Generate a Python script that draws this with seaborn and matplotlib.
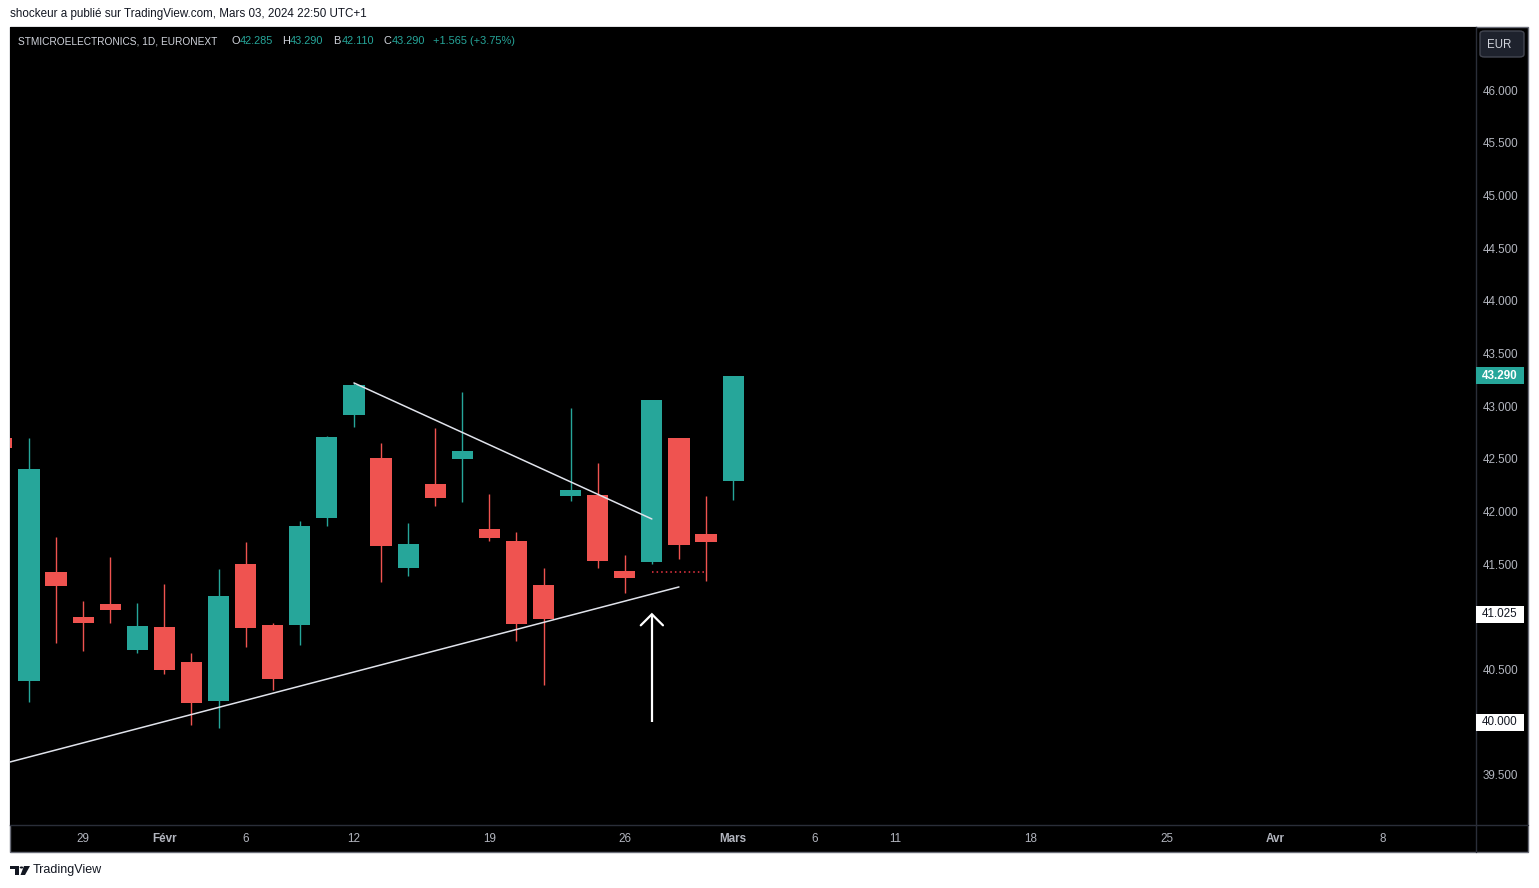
import numpy as np
import pandas as pd
import matplotlib
matplotlib.use('Agg')
import matplotlib.pyplot as plt
import matplotlib.transforms as mtransforms
from matplotlib.patches import Rectangle, FancyBboxPatch, Polygon, Circle
import seaborn as sns

# daily candles, STMicroelectronics (EURONEXT), Jan 24 -> Mar 1 2024
dates = ['2024-01-24', '2024-01-25', '2024-01-26', '2024-01-29', '2024-01-30', '2024-01-31',
         '2024-02-01', '2024-02-02', '2024-02-05', '2024-02-06', '2024-02-07', '2024-02-08',
         '2024-02-09', '2024-02-12', '2024-02-13', '2024-02-14', '2024-02-15', '2024-02-16',
         '2024-02-19', '2024-02-20', '2024-02-21', '2024-02-22', '2024-02-23', '2024-02-26',
         '2024-02-27', '2024-02-28', '2024-02-29', '2024-03-01']
opens = [42.70, 40.39, 41.43, 41.00, 41.12, 40.69, 40.90, 40.57, 40.20, 41.50, 40.92, 40.92,
         41.94, 42.92, 42.51, 41.46, 42.26, 42.50, 41.83, 41.72, 41.30, 42.15, 42.16, 41.44,
         41.52, 42.70, 41.79, 42.285]
highs = [42.72, 42.70, 41.76, 41.15, 41.57, 41.13, 41.31, 40.66, 41.45, 41.71, 40.94, 41.91,
         42.72, 43.22, 42.65, 41.89, 42.79, 43.13, 42.17, 41.81, 41.46, 42.98, 42.46, 41.59,
         43.06, 42.70, 42.15, 43.29]
lows = [42.58, 40.19, 40.75, 40.68, 40.94, 40.66, 40.46, 39.97, 39.95, 40.71, 40.31, 40.73,
        41.86, 42.80, 41.33, 41.39, 42.05, 42.09, 41.72, 40.77, 40.35, 42.10, 41.46, 41.23,
        41.50, 41.55, 41.34, 42.11]
closes = [42.60, 42.40, 41.29, 40.94, 41.07, 40.91, 40.50, 40.18, 41.20, 40.89, 40.41, 41.86,
          42.71, 43.20, 41.67, 41.69, 42.13, 42.57, 41.75, 40.93, 40.98, 42.20, 41.53, 41.37,
          43.06, 41.68, 41.71, 43.29]

# time axis (bar index, first candle of Jan 25 = 0)
time_pos = [2, 5, 8, 12, 17, 22, 26, 29, 32, 37, 42, 46, 50]
time_labels = ['29', 'Févr', '6', '12', '19', '26', 'Mars', '6', '11', '18', '25', 'Avr', '8']
month_labels = ['Févr', 'Mars', 'Avr']

# 40.000 / 41.000 are covered by the drawing labels on the scale
price_ticks = [39.5, 40.5, 41.5, 42.0, 42.5, 43.0, 43.5, 44.0, 44.5, 45.0, 45.5, 46.0]

# drawings
support_x = [-0.70, 24.0]
support_y = [39.623, 41.284]
resist_x = [12.0, 23.0]
resist_y = [43.22, 41.929]
dotted_x = [23.0, 24.96]
dotted_y = [41.426, 41.426]
arrow_x = 23.0
arrow_y = [40.0, 41.025]
last_price = 43.29

GREEN = '#26a69a'
RED = '#ef5350'
TXT = '#b2b5be'

df = pd.DataFrame({'date': dates, 'open': opens, 'high': highs, 'low': lows, 'close': closes})
df['i'] = np.arange(len(df)) - 1
df['up'] = df['close'] >= df['open']

sns.set_theme(style='dark', rc={'axes.facecolor': 'black', 'figure.facecolor': 'white'})
plt.rcParams['font.family'] = ['Liberation Sans', 'DejaVu Sans']

W, H = 1539, 888
fig = plt.figure(figsize=(W / 100, H / 100), dpi=100)

def fx(x):
    return x / W

def fy(y):
    return 1 - y / H

# black chart panel
fig.add_artist(Rectangle((fx(10), fy(852)), fx(1528) - fx(10), fy(27) - fy(852),
                         transform=fig.transFigure, fc='black', ec='#6a6d78', lw=1, zorder=0))

ax = fig.add_axes([fx(10), fy(825), fx(1476) - fx(10), fy(27) - fy(825)])
ax.set_facecolor('black')

cols = np.where(df['up'], GREEN, RED)
ax.vlines(df['i'], df['low'], df['high'], colors=cols, lw=1.0, zorder=2)
body = (df['close'] - df['open']).abs().clip(lower=0.02)
ax.bar(df['i'], body, bottom=df[['open', 'close']].min(axis=1), width=0.78,
       color=cols, linewidth=0, zorder=3)

# trendlines
sns.lineplot(x=support_x, y=support_y, ax=ax, color='#e0e3eb', lw=1.1, zorder=4)
sns.lineplot(x=resist_x, y=resist_y, ax=ax, color='#e0e3eb', lw=1.1, zorder=4)
ax.plot(dotted_x, dotted_y, color='#f23645', lw=1.1, ls=(0, (1, 2)), zorder=4)

# arrow
ax.plot([arrow_x, arrow_x], arrow_y, color='white', lw=1.6, zorder=5, solid_capstyle='butt')
ax.plot([arrow_x - 0.41, arrow_x, arrow_x + 0.41],
        [arrow_y[1] - 0.105, arrow_y[1], arrow_y[1] - 0.105],
        color='white', lw=1.6, zorder=5, solid_joinstyle='miter')

ax.set_xlim(-0.70, 53.43)
ax.set_ylim(39.025, 46.598)
ax.grid(False)
for s in ['top', 'left']:
    ax.spines[s].set_visible(False)
ax.spines['right'].set_color('#2a2e39')
ax.spines['bottom'].set_color('#2a2e39')
ax.spines['right'].set_linewidth(1)
ax.spines['bottom'].set_linewidth(1)

ax.set_xticks(time_pos)
ax.set_xticklabels(time_labels)
ax.yaxis.tick_right()
ax.set_yticks(price_ticks)
ax.set_yticklabels([f'{v:.3f}' for v in price_ticks])
ax.tick_params(axis='x', length=0, pad=6, labelsize=8.4, labelcolor=TXT)
ax.tick_params(axis='y', length=0, pad=5, labelsize=8.4, labelcolor=TXT)
for lab in ax.get_xticklabels():
    if lab.get_text() in month_labels:
        lab.set_fontweight('bold')
ax.set_xlabel('')
ax.set_ylabel('')
leg = ax.get_legend()
if leg:
    leg.remove()

# highlighted price labels on the scale
blend = mtransforms.blended_transform_factory(ax.transAxes, ax.transData)
bw = (1524 - 1476) / 1466
bh = 17 / 105.38
for val, fc, tc, bold in [(last_price, GREEN, 'white', True),
                          (arrow_y[1], 'white', '#131722', False),
                          (arrow_y[0], 'white', '#131722', False)]:
    ax.add_patch(Rectangle((1.0, val - bh / 2), bw, bh, transform=blend, fc=fc, ec='none',
                           clip_on=False, zorder=6))
    ax.text(1.0 + 6 / 1466, val, f'{val:.3f}', transform=blend, color=tc, fontsize=8.4,
            va='center', ha='left', fontweight='bold' if bold else 'normal', zorder=7,
            clip_on=False)

# EUR box
fig.add_artist(FancyBboxPatch((fx(1480), fy(57)), fx(1524) - fx(1480), fy(31) - fy(57),
                              boxstyle='round,pad=0,rounding_size=0.003',
                              transform=fig.transFigure, fc='#1e222d', ec='#434651', lw=1))
fig.text(fx(1499), fy(44.5), 'EUR', color='#d1d4dc', fontsize=8.3, ha='center', va='center')

# separator between scale and time axis rows
fig.add_artist(plt.Line2D([fx(1476), fx(1528)], [fy(825), fy(825)], transform=fig.transFigure,
                          color='#2a2e39', lw=1))
fig.add_artist(plt.Line2D([fx(1476), fx(1476)], [fy(825), fy(852)], transform=fig.transFigure,
                          color='#2a2e39', lw=1))

# legend line of the symbol
fig.text(fx(18), fy(41.5), 'STMICROELECTRONICS, 1D, EURONEXT', color='#d1d4dc', fontsize=7.3,
         va='center', ha='left')
for xp, s, c in [(231, 'O', '#d1d4dc'), (240, '42.285', GREEN), (282, 'H', '#d1d4dc'),
                 (290, '43.290', GREEN), (333, 'B', '#d1d4dc'), (342, '42.110', GREEN),
                 (383, 'C', '#d1d4dc'), (392, '43.290', GREEN), (433, '+1.565 (+3.75%)', GREEN)]:
    fig.text(fx(xp), fy(41.5), s, color=c, fontsize=7.9, va='center', ha='left')

# header and footer
fig.text(fx(10), fy(14), 'shockeur a publié sur TradingView.com, Mars 03, 2024 22:50 UTC+1',
         color='#131722', fontsize=8.4, va='center', ha='left')
fig.add_artist(Polygon([(fx(10), fy(866)), (fx(19), fy(866)), (fx(19), fy(875)), (fx(15), fy(875)),
                        (fx(15), fy(869)), (fx(10), fy(869))], closed=True,
                       transform=fig.transFigure, fc='#131722', ec='none'))
fig.add_artist(Circle((fx(21.5), fy(867.5)), 1.8 / W, transform=fig.transFigure,
                      fc='#131722', ec='none'))
fig.add_artist(Polygon([(fx(24), fy(866)), (fx(30), fy(866)), (fx(25), fy(875)), (fx(20.5), fy(875))],
                       closed=True, transform=fig.transFigure, fc='#131722', ec='none'))
fig.text(fx(33), fy(870), 'TradingView', color='#131722', fontsize=9, va='center', ha='left')

fig.savefig('out.png', dpi=100)
